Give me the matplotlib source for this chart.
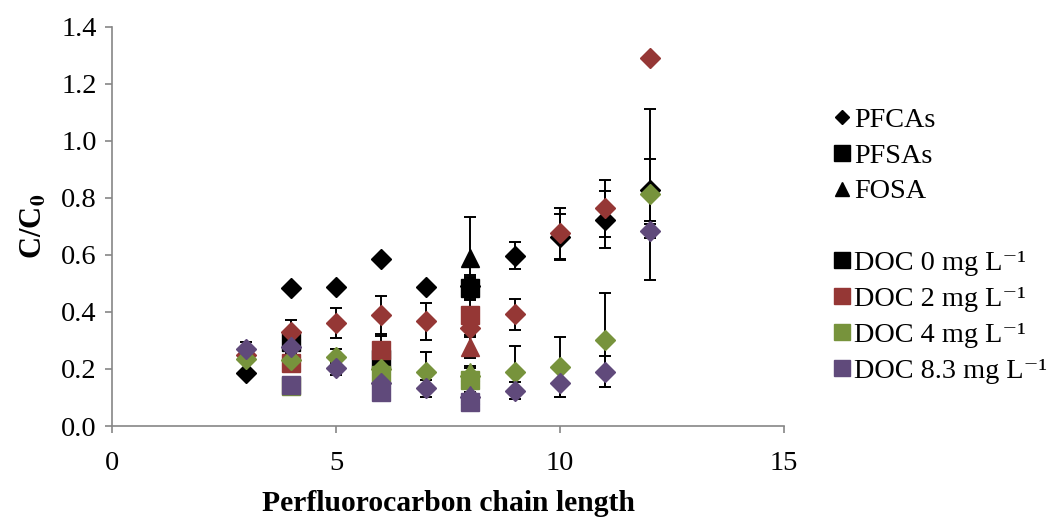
import numpy as np
import matplotlib.pyplot as plt
from matplotlib.lines import Line2D
from matplotlib.ticker import FormatStrFormatter

plt.rcParams['font.family'] = ['Liberation Serif', 'DejaVu Serif']
plt.rcParams['mathtext.fontset'] = 'stix'

# chain lengths
pfca_x = [3, 4, 5, 6, 7, 8, 9, 10, 11, 12]
pfsa_x = [4, 6, 8]
fosa_x = [8]

doc_labels = ['DOC 0 mg L\u207b\u00b9', 'DOC 2 mg L\u207b\u00b9',
              'DOC 4 mg L\u207b\u00b9', 'DOC 8.3 mg L\u207b\u00b9']
doc_colors = ['#000000', '#953735', '#77933C', '#604A7B']

# C/C0 per DOC level
pfca_y = [
    [0.185, 0.483, 0.489, 0.585, 0.489, 0.49, 0.598, 0.664, 0.723, 0.828],
    [0.25, 0.331, 0.36, 0.388, 0.368, 0.343, 0.392, 0.676, 0.764, 1.292],
    [0.235, 0.232, 0.243, 0.199, 0.19, 0.175, 0.188, 0.206, 0.302, 0.813],
    [0.27, 0.276, 0.202, 0.152, 0.132, 0.10, 0.124, 0.15, 0.19, 0.685],
]
pfca_err = [
    [0.01, 0.012, 0.01, 0.01, 0.01, 0.03, 0.046, 0.08, 0.10, 0.11],
    [0.01, 0.04, 0.053, 0.067, 0.065, 0.03, 0.055, 0.09, 0.10, 0.01],
    [0.01, 0.03, 0.026, 0.03, 0.071, 0.03, 0.093, 0.105, 0.166, 0.30],
    [0.026, 0.02, 0.023, 0.02, 0.029, 0.02, 0.029, 0.049, 0.054, 0.025],
]
pfsa_y = [
    [0.296, 0.235, 0.483],
    [0.22, 0.265, 0.388],
    [0.14, 0.18, 0.161],
    [0.143, 0.118, 0.085],
]
pfsa_err = [
    [0.02, 0.02, 0.04],
    [0.02, 0.05, 0.14],
    [0.01, 0.01, 0.01],
    [0.01, 0.01, 0.01],
]
fosa_y = [[0.588], [0.278], [0.19], [0.11]]
fosa_err = [[0.144], [0.04], [0.02], [0.01]]

fig = plt.figure(figsize=(10.51, 5.17), dpi=100)
ax = fig.add_axes([0.1066, 0.176, 0.6394, 0.772])

ebkw = dict(ls='none', ecolor='black', elinewidth=1.4, capsize=4.5, capthick=1.4)
for i, c in enumerate(doc_colors):
    ax.errorbar(pfca_x, pfca_y[i], yerr=pfca_err[i], marker='D', ms=10,
                mfc=c, mec=c, **ebkw)
    ax.errorbar(pfsa_x, pfsa_y[i], yerr=pfsa_err[i], marker='s', ms=13.5,
                mfc=c, mec=c, **ebkw)
    ax.errorbar(fosa_x, fosa_y[i], yerr=fosa_err[i], marker='^', ms=13.5,
                mfc=c, mec=c, **ebkw)

ax.set_xlim(0, 15)
ax.set_ylim(0, 1.4)
ax.set_xticks([0, 5, 10, 15])
ax.set_yticks(np.arange(0, 1.41, 0.2))
ax.yaxis.set_major_formatter(FormatStrFormatter('%.1f'))
for s in ['top', 'right']:
    ax.spines[s].set_visible(False)
for s in ['left', 'bottom']:
    ax.spines[s].set_color('#868686')
    ax.spines[s].set_linewidth(1.2)
ax.tick_params(direction='out', length=5, width=1.2, color='#868686',
               labelsize=20.5, pad=6)
ax.tick_params(axis='x', pad=13)

ax.set_xlabel('Perfluorocarbon chain length', fontsize=21.3, fontweight='bold', labelpad=10)
ax.set_ylabel(r'C/C$_{\mathbf{0}}$', fontsize=22, fontweight='bold', labelpad=9)

handles = [
    Line2D([], [], ls='none', marker='D', ms=6.8, color='black'),
    Line2D([], [], ls='none', marker='s', ms=11.5, color='black'),
    Line2D([], [], ls='none', marker='^', ms=10, color='black'),
    Line2D([], [], ls='none'),
]
labels = ['PFCAs', 'PFSAs', 'FOSA', '']
for lab, c in zip(doc_labels, doc_colors):
    handles.append(Line2D([], [], ls='none', marker='s', ms=11.5, color=c))
    labels.append(lab)
fig.legend(handles, labels, loc='upper left', bbox_to_anchor=(0.782, 0.815),
           frameon=False, fontsize=20.3, handlelength=0.6, handletextpad=0.15,
           labelspacing=0.36, borderaxespad=0)

fig.savefig('out.png', dpi=100)
